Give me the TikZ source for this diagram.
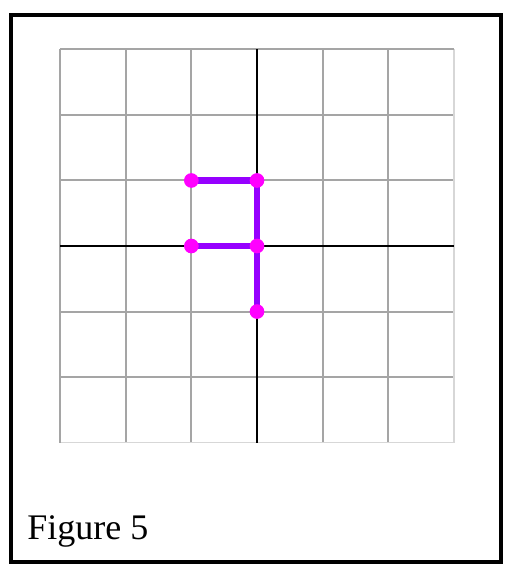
\documentclass[tikz,border=0pt]{standalone}
\usepackage{fontspec}
\setmainfont{Liberation Serif}
\usetikzlibrary{positioning}
\definecolor{gridgray}{RGB}{165,165,165}
\definecolor{edgegray}{RGB}{215,215,215}
\definecolor{pathpurple}{RGB}{150,0,255}
\definecolor{dotmagenta}{RGB}{255,0,255}
\tikzset{
  frame/.style={draw=black,line width=2.6pt},
  gridline/.style={draw=gridgray,line width=1.5pt},
  axisline/.style={draw=black,line width=1.1pt},
  seg/.style={draw=pathpurple,line width=5.2pt},
  pt/.style={circle,fill=dotmagenta,inner sep=0pt,minimum size=11pt},
  caption/.style={font=\fontsize{27}{31}\selectfont,anchor=base west,inner sep=0pt},
}

\begin{document}
\begin{tikzpicture}[x=0.75pt,y=-0.75pt]

  \useasboundingbox (0,0) rectangle (509,572);
  \draw[frame] (11,15) rectangle (501,562);

  % grid, 6 x 6 cells, origin at the centre
  \begin{scope}[shift={(257,246)},x=49.25pt,y=49.15pt]
    \fill[white] (-3,-3) rectangle (3,3);
    \foreach \k in {-2,-1,1,2}{
      \draw[gridline] (\k,-3) -- (\k,3);
      \draw[gridline] (-3,\k) -- (3,\k);
    }
    \draw[draw=edgegray,line width=0.8pt] (-3,-3) rectangle (3,3);
    \draw[gridline] (-3,-3) -- (-3,3);
    \draw[gridline] (-3,3) -- (3,3);
    \draw[axisline] (0,-3) -- (0,3);
    \draw[axisline] (-3,0) -- (3,0);

    \coordinate (a) at (-1,1);
    \coordinate (b) at (0,1);
    \coordinate (c) at (-1,0);
    \coordinate (o) at (0,0);
    \coordinate (e) at (0,-1);

    \draw[seg] (a) -- (b) -- (o) -- (e);
    \draw[seg] (c) -- (o);

    \foreach \p in {a,b,c,o,e}{
      \node[pt] (\p dot) at (\p) {};
    }
  \end{scope}

  \node[caption] (fig) at (27,539) {Figure 5};

\end{tikzpicture}
\end{document}
